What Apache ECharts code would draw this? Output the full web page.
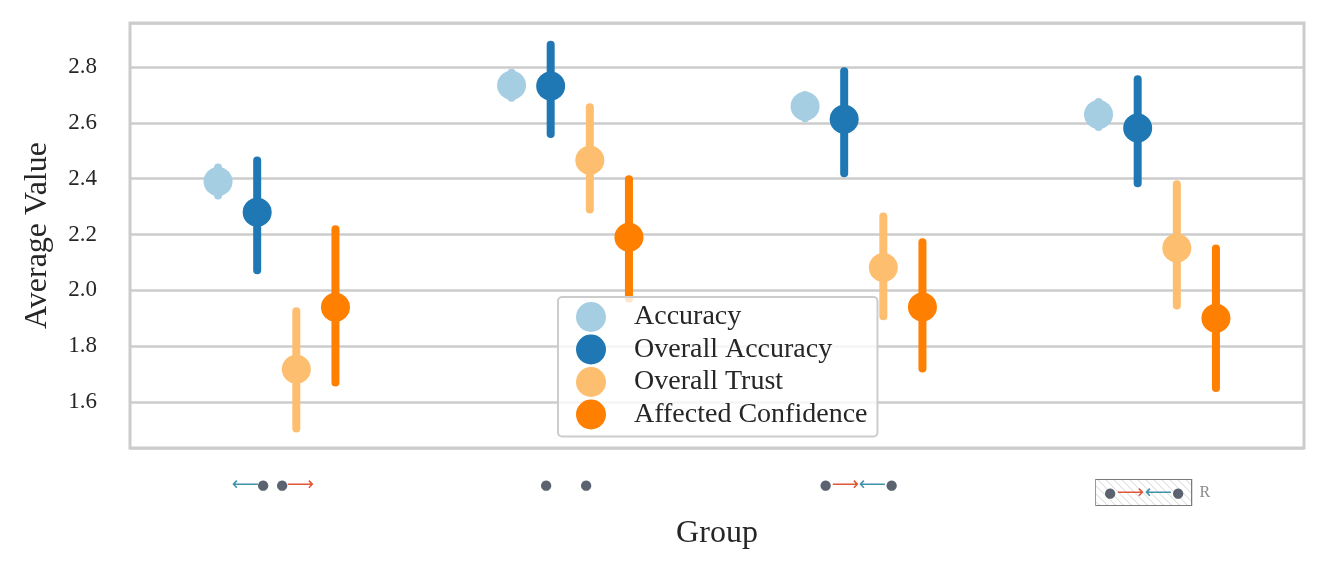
<!DOCTYPE html>
<html>
<head>
<meta charset="utf-8">
<script src="https://cdn.jsdelivr.net/npm/echarts@6/dist/echarts.min.js"></script>
<style>
html,body{margin:0;padding:0;background:#fff;}
#chart{width:1328px;height:571px;}
</style>
</head>
<body>
<div id="chart"></div>
<script>
// ---- data ----
const categories = ['outward', 'none', 'inward', 'inward (R)'];
const seriesNames = ['Accuracy', 'Overall Accuracy', 'Overall Trust', 'Affected Confidence'];
const accuracyMean = [2.39, 2.735, 2.66, 2.63];
const accuracyLow  = [2.34, 2.69, 2.617, 2.585];
const accuracyHigh = [2.44, 2.78, 2.70, 2.675];
const overallAccMean = [2.28, 2.732, 2.613, 2.582];
const overallAccLow  = [2.072, 2.56, 2.42, 2.384];
const overallAccHigh = [2.465, 2.88, 2.785, 2.756];
const trustMean = [1.717, 2.466, 2.082, 2.152];
const trustLow  = [1.505, 2.29, 1.907, 1.946];
const trustHigh = [1.925, 2.656, 2.265, 2.38];
const affectedMean = [1.939, 2.19, 1.94, 1.90];
const affectedLow  = [1.67, 1.97, 1.72, 1.65];
const affectedHigh = [2.219, 2.398, 2.172, 2.15];
// tick labels (icon glyph strings, rich-text)
const iconLabels = [
  '{la|⟵}{d|●}{g7| }{d|●}{ra|⟶}{p8| }',
  '{d|●}{g28| }{d|●}{p8| }',
  '{d|●}{ra2|⟶}{la2|⟵}{d|●}{p10| }',
  ''
];
const boxLabels = ['', '', '', '{box| }{rr|R}'];
const boxGlyphLabels = ['', '', '', '{p8| }{d|●}{ra3|⟶}{la3|⟵}{d|●}{p7| }{p27| }'];

const colors = ['#a6cee3', '#1f78b4', '#fdbf6f', '#ff7f00'];
const offsets = [-0.2, -0.0667, 0.0667, 0.2];

const means = [accuracyMean, overallAccMean, trustMean, affectedMean];
const lows = [accuracyLow, overallAccLow, trustLow, affectedLow];
const highs = [accuracyHigh, overallAccHigh, trustHigh, affectedHigh];

// hatch image for the boxed label
const hatch = document.createElement('canvas');
hatch.width = 95; hatch.height = 25;
(function(){
  const c = hatch.getContext('2d');
  c.fillStyle = '#ffffff'; c.fillRect(0,0,95,25);
  c.strokeStyle = '#d6d6d6'; c.lineWidth = 1;
  for (let x = -30; x < 130; x += 8) {
    c.beginPath(); c.moveTo(x, 0); c.lineTo(x + 25, 25); c.stroke();
  }
})();

const glyphFont = 'DejaVu Sans';
const dotStyle = {fontFamily: glyphFont, fontSize: 13.5, color: '#5b6270', width: 12, align: 'center', lineHeight: 20};
const arrowBase = {fontFamily: glyphFont, fontSize: 19, align: 'center', lineHeight: 20};
const teal = '#4593ab', red = '#e2583b';
function pad(w){ return {width: w, lineHeight: 20}; }
const glyphRich = {
  d: dotStyle,
  la: Object.assign({}, arrowBase, {color: teal, width: 24}),
  ra: Object.assign({}, arrowBase, {color: red, width: 24}),
  la2: Object.assign({}, arrowBase, {color: teal, width: 27}),
  ra2: Object.assign({}, arrowBase, {color: red, width: 27}),
  la3: Object.assign({}, arrowBase, {color: teal, width: 28}),
  ra3: Object.assign({}, arrowBase, {color: red, width: 28}),
  g7: pad(7), g28: pad(28), p8: pad(8), p10: pad(10), p7: pad(7), p27: pad(27)
};

function renderItem(sIdx) {
  return function(params, api) {
    const ci = api.value(0);
    const band = api.size([1, 0])[0];
    const off = offsets[sIdx] * band;
    const pm = api.coord([ci, api.value(1)]);
    const pl = api.coord([ci, api.value(2)]);
    const ph = api.coord([ci, api.value(3)]);
    const x = pm[0] + off;
    return {
      type: 'group',
      children: [
        {type: 'line', shape: {x1: x, y1: pl[1], x2: x, y2: ph[1]},
         style: {stroke: colors[sIdx], lineWidth: 8, lineCap: 'round'}},
        {type: 'circle', shape: {cx: x, cy: pm[1], r: 14.5},
         style: {fill: colors[sIdx]}}
      ]
    };
  };
}

const series = seriesNames.map((name, s) => ({
  name: name,
  type: 'custom',
  xAxisIndex: 0,
  yAxisIndex: 0,
  itemStyle: {color: colors[s]},
  renderItem: renderItem(s),
  encode: {x: 0, y: 1},
  data: categories.map((c, i) => [i, means[s][i], lows[s][i], highs[s][i]])
}));

const serif = 'Liberation Serif';
const textColor = '#262626';

const baseX = {
  type: 'category',
  data: categories,
  position: 'bottom',
  axisLine: {show: false},
  axisTick: {show: false},
  splitLine: {show: false}
};

const option = {
  animation: false,
  backgroundColor: '#ffffff',
  grid: {left: 130, right: 24, top: 23, bottom: 123, show: true,
         borderColor: '#cccccc', borderWidth: 3, backgroundColor: 'transparent'},
  legend: {
    data: seriesNames,
    orient: 'vertical',
    left: 558, top: 297,
    icon: 'circle',
    itemWidth: 30, itemHeight: 30, itemGap: 2.5,
    padding: [5, 10, 7, 18],
    backgroundColor: 'rgba(255,255,255,0.8)',
    borderColor: '#cccccc', borderWidth: 2, borderRadius: 4,
    textStyle: {fontFamily: serif, fontSize: 28, color: textColor, padding: [0, 0, 0, 23]}
  },
  xAxis: [
    Object.assign({}, baseX, {
      name: 'Group', nameLocation: 'middle', nameGap: 70,
      nameTextStyle: {fontFamily: serif, fontSize: 32, color: textColor},
      axisLabel: {interval: 0, margin: 27, formatter: (v, i) => iconLabels[i], rich: glyphRich}
    }),
    Object.assign({}, baseX, {
      axisLabel: {interval: 0, margin: 32, formatter: (v, i) => boxLabels[i],
        rich: {
          box: {width: 95, height: 25, lineHeight: 25, backgroundColor: {image: hatch},
                borderColor: '#7a7a7a', borderWidth: 2},
          rr: {width: 27, align: 'center', fontFamily: serif, fontSize: 16, color: '#8a8a8a', lineHeight: 25}
        }}
    }),
    Object.assign({}, baseX, {
      axisLabel: {interval: 0, margin: 35, formatter: (v, i) => boxGlyphLabels[i], rich: glyphRich}
    })
  ],
  yAxis: {
    type: 'value',
    min: 1.435, max: 2.958, splitNumber: 7,
    name: 'Average Value', nameLocation: 'middle', nameGap: 76,
    nameTextStyle: {fontFamily: serif, fontSize: 32, color: textColor},
    axisLine: {show: false}, axisTick: {show: false},
    axisLabel: {margin: 33, fontFamily: serif, fontSize: 23, color: textColor,
                showMinLabel: false, showMaxLabel: false,
                formatter: v => v.toFixed(1)},
    splitLine: {lineStyle: {color: '#cccccc', width: 2.5}}
  },
  series: series
};

const chart = echarts.init(document.getElementById('chart'));
chart.setOption(option);
</script>
</body>
</html>
